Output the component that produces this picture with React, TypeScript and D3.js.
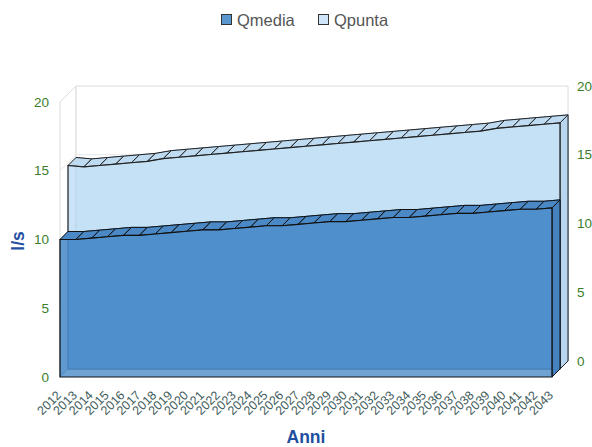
import React from 'react';
import * as d3 from 'd3';

const years = [
  '2012', '2013', '2014', '2015', '2016', '2017', '2018', '2019', '2020', '2021', '2022',
  '2023', '2024', '2025', '2026', '2027', '2028', '2029', '2030', '2031', '2032', '2033',
  '2034', '2035', '2036', '2037', '2038', '2039', '2040', '2041', '2042', '2043',
];
const qmedia = [
  10.0, 10.0, 10.1, 10.2, 10.3, 10.3, 10.4, 10.5, 10.6, 10.7, 10.7, 10.8, 10.9, 11.0, 11.0, 11.1,
  11.2, 11.3, 11.3, 11.4, 11.5, 11.6, 11.6, 11.7, 11.8, 11.9, 11.9, 12.0, 12.1, 12.2, 12.2, 12.3,
];
const qpunta = [
  14.8, 14.7, 14.8, 14.9, 15.0, 15.1, 15.3, 15.4, 15.5, 15.6, 15.7, 15.8, 15.9, 16.0, 16.1, 16.2,
  16.3, 16.4, 16.5, 16.6, 16.7, 16.8, 16.9, 17.0, 17.1, 17.2, 17.3, 17.5, 17.6, 17.7, 17.8, 17.9,
];
const yTicks = [0, 5, 10, 15, 20];

const FONT = '"Liberation Sans", Arial, sans-serif';
const SLICE = 8; // depth of one series
const DEPTH = SLICE * 2;

type Pt = [number, number];
const poly = (pts: Pt[]) => pts.map(p => p.join(',')).join(' ');

export default function App() {
  const width = 592;
  const height = 447;

  const x = d3.scalePoint<string>().domain(years).range([60, 552]);
  const y = d3.scaleLinear().domain([0, 20]).range([377, 102]);

  const x0 = x(years[0])!;
  const x1 = x(years[years.length - 1])!;

  // back first, front last
  const series = [
    { name: 'Qpunta', values: qpunta, z: SLICE, fill: '#c5e0f5', top: '#bedbf2', side: '#b8d6ef', back: '#7f9fbd', edge: '#222' },
    { name: 'Qmedia', values: qmedia, z: 0, fill: '#4f8fcb', top: '#4a89c6', side: '#4682bd', back: '#1d3f66', edge: '#111' },
  ];

  const wallLeft: Pt[] = [[x0, y(20)], [x0 + DEPTH, y(20) - DEPTH], [x0 + DEPTH, y(0) - DEPTH], [x0, y(0)]];
  const wallBack: Pt[] = [[x0 + DEPTH, y(20) - DEPTH], [x1 + DEPTH, y(20) - DEPTH], [x1 + DEPTH, y(0) - DEPTH], [x0 + DEPTH, y(0) - DEPTH]];

  return (
    <svg width={width} height={height} style={{ position: 'absolute', left: 0, top: 0, fontFamily: FONT }}>
      <rect width={width} height={height} fill="#fff" />

      {/* legend */}
      <g>
        <rect x={221.5} y={14.5} width={10} height={10} fill="#5a96cf" stroke="#333" />
        <text x={237} y={26} fontSize={16.5} fill="#555">Qmedia</text>
        <rect x={318.5} y={14.5} width={10} height={10} fill="#cfe5f8" stroke="#333" />
        <text x={334} y={26} fontSize={16.5} fill="#555">Qpunta</text>
      </g>

      {/* walls and grid */}
      <polygon points={poly(wallLeft)} fill="#fff" stroke="#dcdcdc" />
      <polygon points={poly(wallBack)} fill="#fff" stroke="#dcdcdc" />
      {yTicks.slice(1, -1).map(t => (
        <g key={t}>
          <line x1={x0} y1={y(t)} x2={x0 + DEPTH} y2={y(t) - DEPTH} stroke="#e6e6e6" />
          <line x1={x0 + DEPTH} y1={y(t) - DEPTH} x2={x1 + DEPTH} y2={y(t) - DEPTH} stroke="#e6e6e6" />
        </g>
      ))}

      {/* series */}
      {series.map(s => {
        const P = (i: number, v: number, dz: number): Pt => [x(years[i])! + s.z + dz, y(v) - s.z - dz];
        const n = s.values.length;
        const topLine = (dz: number) => s.values.map((v, i) => P(i, v, dz));
        const base = (dz: number): Pt[] => [P(n - 1, 0, dz), P(0, 0, dz)];
        const backFace = [...topLine(SLICE), ...base(SLICE)];
        const frontFace = [...topLine(0), ...base(0)];
        const right: Pt[] = [P(n - 1, s.values[n - 1], 0), P(n - 1, s.values[n - 1], SLICE), P(n - 1, 0, SLICE), P(n - 1, 0, 0)];
        const left: Pt[] = [P(0, s.values[0], 0), P(0, s.values[0], SLICE), P(0, 0, SLICE), P(0, 0, 0)];
        return (
          <g key={s.name}>
            <polygon points={poly(backFace)} fill={s.fill} stroke={s.back} strokeWidth={1} />
            <polygon points={poly(left)} fill={s.fill} fillOpacity={0.5} stroke={s.back} strokeOpacity={0.4} />
            <polygon points={poly(right)} fill={s.side} stroke={s.edge} strokeWidth={1} />
            {s.values.slice(1).map((v, k) => {
              const i = k + 1;
              const quad: Pt[] = [P(i - 1, s.values[i - 1], 0), P(i, v, 0), P(i, v, SLICE), P(i - 1, s.values[i - 1], SLICE)];
              return <polygon key={i} points={poly(quad)} fill={s.top} stroke={s.edge} strokeWidth={1} strokeLinejoin="round" />;
            })}
            <polygon points={poly(frontFace)} fill={s.fill} fillOpacity={0.82} stroke={s.edge} strokeWidth={1.2} />
          </g>
        );
      })}

      {/* left axis */}
      {yTicks.map(t => (
        <text key={`l${t}`} x={49} y={y(t)} dy="0.35em" textAnchor="end" fontSize={13.5} fill="#3a7d2c">{t}</text>
      ))}
      {/* right axis */}
      {yTicks.map(t => (
        <text key={`r${t}`} x={577} y={y(t) - DEPTH} dy="0.35em" fontSize={13.5} fill="#3a7d2c">{t}</text>
      ))}

      {/* x tick labels */}
      {years.map(yr => (
        <text
          key={yr}
          transform={`translate(${x(yr)! + 2},${396}) rotate(-45)`}
          textAnchor="end"
          fontSize={12.5}
          fill="#3f5c5c"
        >
          {yr}
        </text>
      ))}

      {/* axis titles */}
      <text x={306} y={443} textAnchor="middle" fontSize={17.5} fontWeight="bold" fill="#1f4f9f">Anni</text>
      <text transform="translate(24,241) rotate(-90)" textAnchor="middle" fontSize={17.5} fontWeight="bold" fill="#1f4f9f">l/s</text>
    </svg>
  );
}
